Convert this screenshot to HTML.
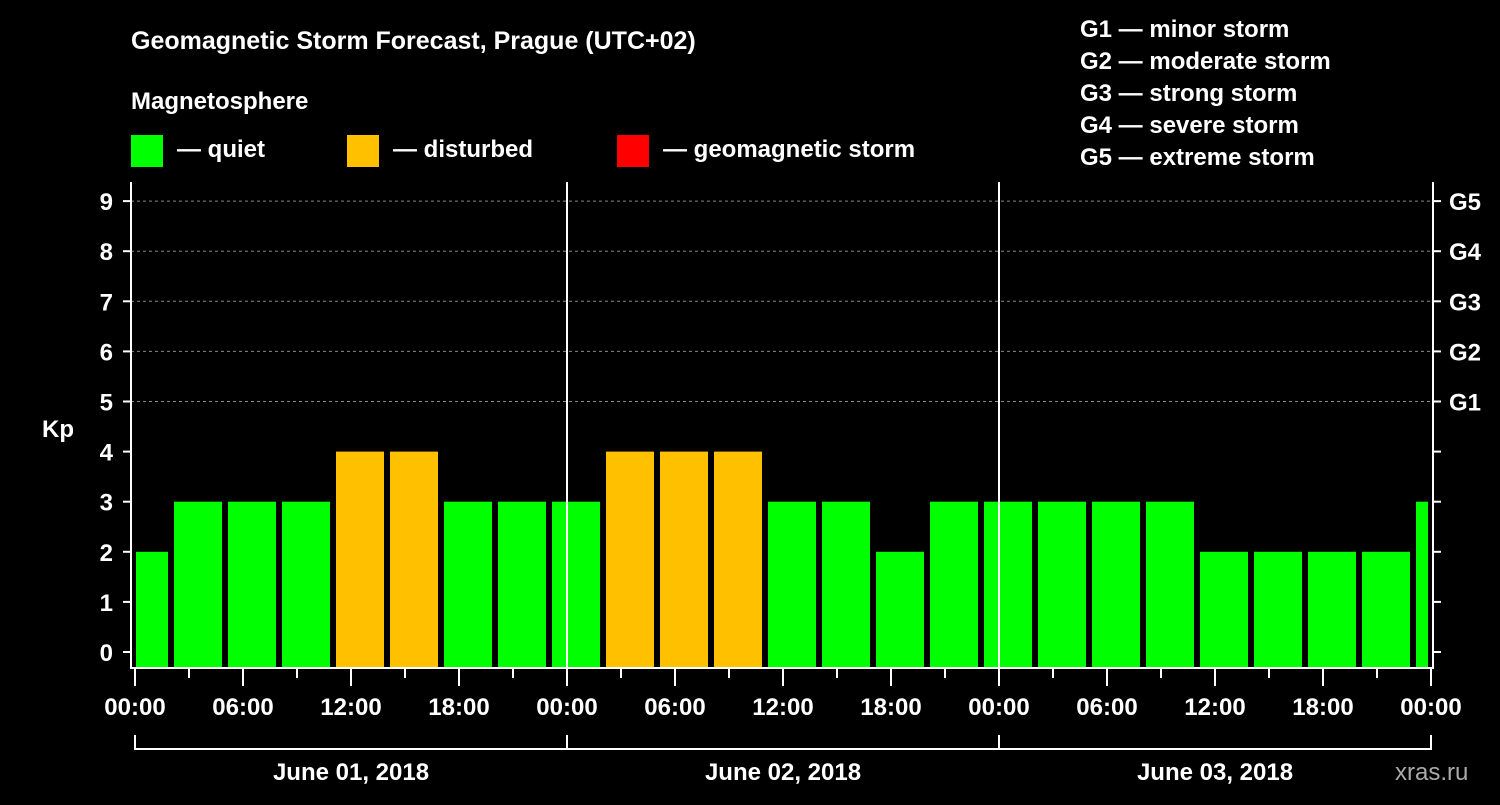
<!DOCTYPE html>
<html><head><meta charset="utf-8"><style>
body{margin:0;background:#000;width:1500px;height:800px;overflow:hidden}
svg text{font-family:"Liberation Sans",sans-serif;font-weight:bold;fill:#fff}
</style></head><body>
<svg id="c" width="1500" height="800" xmlns="http://www.w3.org/2000/svg">
<text x="131" y="49" font-size="25">Geomagnetic Storm Forecast, Prague (UTC+02)</text>
<text x="131" y="109" font-size="24">Magnetosphere</text>
<rect x="131" y="135" width="32" height="32" fill="#00ff00"/>
<text x="177" y="157" font-size="24">— quiet</text>
<rect x="347" y="135" width="32" height="32" fill="#ffc000"/>
<text x="393" y="157" font-size="24">— disturbed</text>
<rect x="617" y="135" width="32" height="32" fill="#ff0000"/>
<text x="663" y="157" font-size="24">— geomagnetic storm</text>
<g font-size="24">
<text x="1080" y="37">G1 — minor storm</text>
<text x="1080" y="69">G2 — moderate storm</text>
<text x="1080" y="101">G3 — strong storm</text>
<text x="1080" y="133">G4 — severe storm</text>
<text x="1080" y="165">G5 — extreme storm</text>
</g>
<text x="42" y="437" font-size="24">Kp</text>
<text x="1395" y="780" font-size="24" style="font-weight:normal;fill:#aaa">xras.ru</text>
<g id="g"></g>
</svg>
<script>
const kpValues=[2,3,3,3,4,4,3,3,3,4,4,4,3,3,2,3,3,3,3,3,2,2,2,2,3];
const intervalStartHours=[-1,2,5,8,11,14,17,20,23,26,29,32,35,38,41,44,47,50,53,56,59,62,65,68,71];
const yTicks=[0,1,2,3,4,5,6,7,8,9];
const gLabels=["G1","G2","G3","G4","G5"];
const gLevels=[5,6,7,8,9];
const hourLabels=["00:00","06:00","12:00","18:00","00:00","06:00","12:00","18:00","00:00","06:00","12:00","18:00","00:00"];
const dayLabels=["June 01, 2018","June 02, 2018","June 03, 2018"];
const NS="http://www.w3.org/2000/svg";
const X=h=>135+18*h, Y=v=>652-50.1*v;
const g=document.getElementById('g');
function mk(t,a){const e=document.createElementNS(NS,t);for(const k in a)e.setAttribute(k,a[k]);g.appendChild(e);return e;}
const color=v=>v>=5?"#ff0000":v>=4?"#ffc000":"#00ff00";
gLevels.forEach((lv,i)=>{
 const l=mk('line',{x1:131,x2:1433,y1:Y(lv),y2:Y(lv),stroke:'#888','stroke-dasharray':'3,3'});
 
 
 const t=mk('text',{x:1449,y:Y(lv)+9,'font-size':24});t.textContent=gLabels[i];
 
 
});
kpValues.forEach((v,i)=>{
 const h=intervalStartHours[i];
 const x0=Math.max(X(h)+3,X(0)+1), x1=Math.min(X(h+3)-3,X(72)-3);
 const r=mk('rect',{x:x0,y:Y(v),width:x1-x0,height:668-Y(v),fill:color(v)});
 
 
});
mk('path',{d:'M131 182V668H1433V182',stroke:'#fff','stroke-width':2,fill:'none'});
[24,48].forEach(h=>{const l=mk('line',{x1:X(h),x2:X(h),y1:182,y2:668,stroke:'#fff','stroke-width':2});
 
 });
yTicks.forEach(v=>{
 mk('line',{x1:123,x2:131,y1:Y(v),y2:Y(v),stroke:'#fff','stroke-width':2});
 mk('line',{x1:1433,x2:1441,y1:Y(v),y2:Y(v),stroke:'#fff','stroke-width':2});
 const t=mk('text',{x:113,y:Y(v)+9,'font-size':24,'text-anchor':'end'});t.textContent=v;
 
 
});
for(let h=0;h<=72;h+=3){mk('line',{x1:X(h),x2:X(h),y1:668,y2:h%6?678:686,stroke:'#fff','stroke-width':2});}
hourLabels.forEach((s,i)=>{const t=mk('text',{x:X(i*6),y:715,'font-size':24,'text-anchor':'middle'});t.textContent=s;
 
 });
mk('path',{d:`M${X(0)} 735V749H${X(72)}V735`,stroke:'#fff','stroke-width':2,fill:'none'});
[24,48].forEach(h=>mk('line',{x1:X(h),x2:X(h),y1:735,y2:749,stroke:'#fff','stroke-width':2}));
dayLabels.forEach((s,i)=>{const t=mk('text',{x:X(i*24+12),y:780,'font-size':24,'text-anchor':'middle'});t.textContent=s;
 
 });
</script>
</body></html>
